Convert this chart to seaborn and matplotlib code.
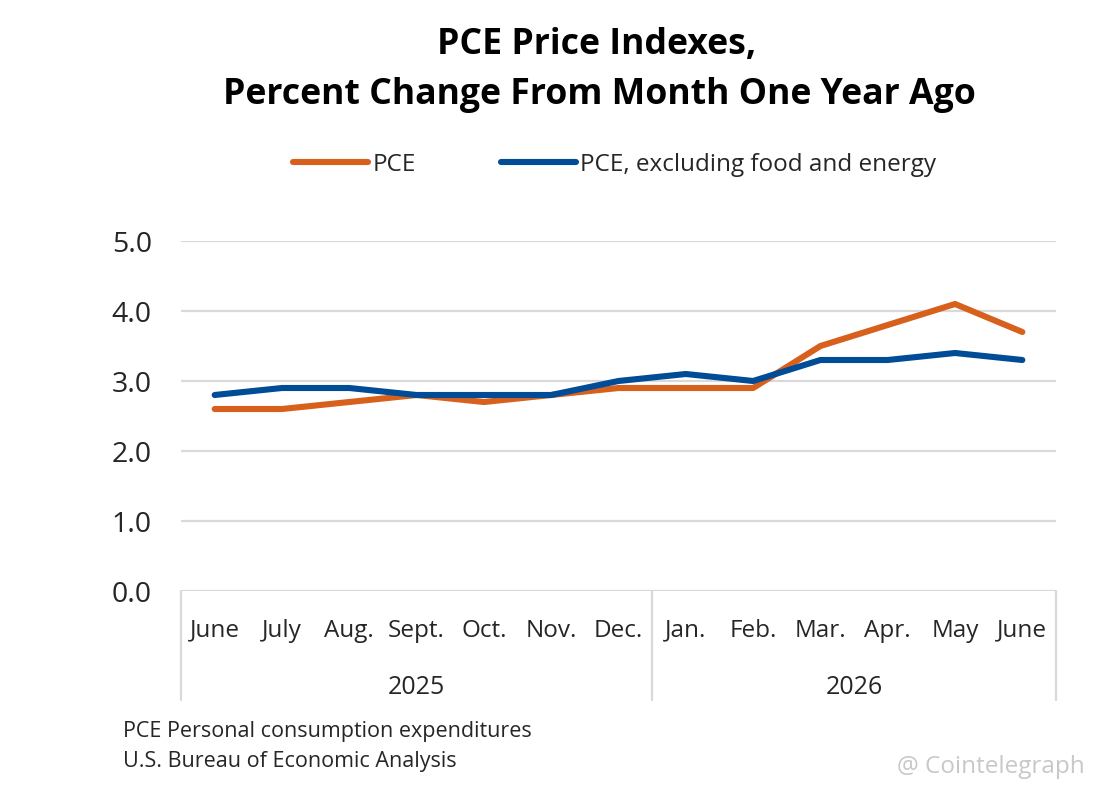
import matplotlib
matplotlib.use("Agg")
import matplotlib.pyplot as plt
import seaborn as sns
import pandas as pd
import numpy as np

# ---- data ----
months = ["June", "July", "Aug.", "Sept.", "Oct.", "Nov.", "Dec.",
          "Jan.", "Feb.", "Mar.", "Apr.", "May", "June"]
years = ["2025", "2026"]
year_counts = [7, 6]
pce = [2.6, 2.6, 2.7, 2.8, 2.7, 2.8, 2.9, 2.9, 2.9, 3.5, 3.8, 4.1, 3.7]
pce_core = [2.8, 2.9, 2.9, 2.8, 2.8, 2.8, 3.0, 3.1, 3.0, 3.3, 3.3, 3.4, 3.3]
series_names = ["PCE", "PCE, excluding food and energy"]
yticks = [0.0, 1.0, 2.0, 3.0, 4.0, 5.0]

df = pd.DataFrame({
    "pos": list(range(len(months))) * 2,
    "value": pce + pce_core,
    "series": [series_names[0]] * len(months) + [series_names[1]] * len(months),
})

sns.set_theme(style="white")
plt.rcParams["font.family"] = ["Open Sans", "DejaVu Sans"]

ORANGE = "#D8601D"
BLUE = "#004C97"
GRID = "#D9D9D9"
TXT = "#262626"

fig = plt.figure(figsize=(10.93, 7.90), dpi=100)
ax = fig.add_axes([181 / 1093, 1 - 591 / 790, (1056 - 181) / 1093, (591 - 241) / 790])

sns.lineplot(data=df, x="pos", y="value", hue="series",
             palette={series_names[0]: ORANGE, series_names[1]: BLUE},
             linewidth=4.4, ax=ax, legend=True, sort=False)
for ln in ax.get_lines():
    ln.set_solid_capstyle("round")
    ln.set_solid_joinstyle("round")

ax.set_xlim(-0.5, len(months) - 0.5)
ax.set_ylim(0, 5)
ax.set_yticks(yticks)
ax.set_yticklabels([f"{v:.1f}" for v in yticks], fontsize=20.5, color=TXT)
ax.set_xticks(range(len(months)))
ax.set_xticklabels(months, fontsize=17.5, color=TXT)
ax.tick_params(axis="y", length=0, pad=21)
ax.tick_params(axis="x", length=0, pad=20)
ax.set_xlabel("")
ax.set_ylabel("")
for s in ["top", "right", "left", "bottom"]:
    ax.spines[s].set_visible(False)
ax.grid(False)
for v in yticks:
    ax.axhline(v, color=GRID, linewidth=1.6, zorder=0)

# category separators and year labels
trans = ax.get_xaxis_transform()
bounds = np.cumsum([0] + year_counts) - 0.5
for b in bounds:
    ax.plot([b, b], [0, -(700 - 591) / 350], transform=trans, color=GRID,
            linewidth=1.6, clip_on=False)
for i, y in enumerate(years):
    c = (bounds[i] + bounds[i + 1]) / 2
    ax.text(c, -(687 - 591) / 350, y, transform=trans, ha="center", va="center",
            fontsize=18, color=TXT)

# legend
leg = ax.legend(loc="center left", bbox_to_anchor=(293 / 1093, 1 - 165 / 790),
                bbox_transform=fig.transFigure, ncol=2, frameon=False,
                fontsize=17.5, handlelength=3.1, handletextpad=0.17,
                columnspacing=3.5, borderpad=0, borderaxespad=0)
for t in leg.get_texts():
    t.set_color(TXT)
for h in leg.get_lines():
    h.set_linewidth(4.4)
    h.set_solid_capstyle("round")

# title
fig.text(597 / 1093, 1 - 45 / 790, "PCE Price Indexes,", ha="center", va="center",
         fontsize=25.7, fontweight="bold", color="black")
fig.text(599 / 1093, 1 - 95 / 790, "Percent Change From Month One Year Ago",
         ha="center", va="center", fontsize=25.7, fontweight="bold", color="black")

# footer
fig.text(123 / 1093, 1 - 731 / 790, "PCE Personal consumption expenditures",
         ha="left", va="center", fontsize=15.5, color=TXT)
fig.text(123 / 1093, 1 - 761 / 790, "U.S. Bureau of Economic Analysis",
         ha="left", va="center", fontsize=15.5, color=TXT)
fig.text(1085 / 1093, 1 - 767 / 790, "@ Cointelegraph", ha="right", va="center",
         fontsize=17.5, color="#C8C8C8")

fig.savefig("out.png", dpi=100)
